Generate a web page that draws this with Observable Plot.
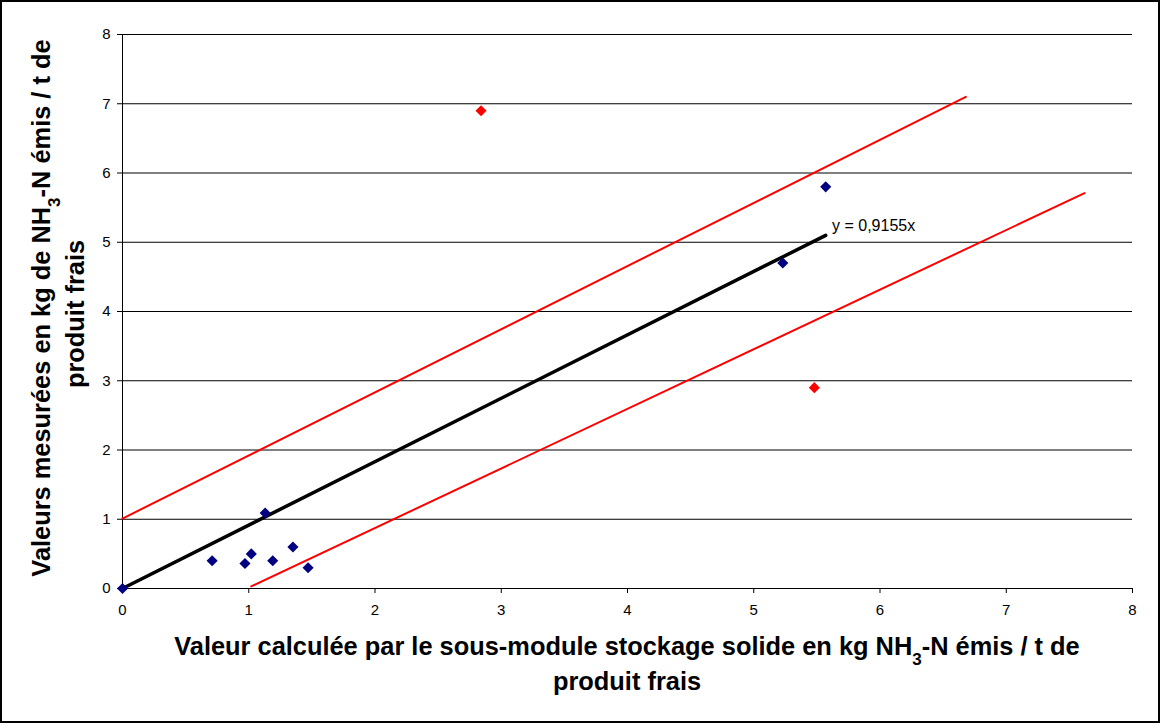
<!DOCTYPE html>
<html>
<head>
<meta charset="utf-8">
<script src="https://cdn.jsdelivr.net/npm/d3@7"></script>
<script src="https://cdn.jsdelivr.net/npm/@observablehq/plot@0.6"></script>
<style>
  html, body { margin: 0; padding: 0; background: #fff; }
  #chart svg { display: block; }
  #chart g[aria-label="x-axis tick label"] text,
  #chart g[aria-label="y-axis tick label"] text { font-size: 15px; }
</style>
</head>
<body>
<div id="chart"></div>
<script>
// Data
const calcBlue = [0, 0.71, 0.97, 1.02, 1.13, 1.19, 1.35, 1.47, 5.23, 5.57];
const measBlue = [0, 0.40, 0.36, 0.50, 1.09, 0.40, 0.60, 0.30, 4.70, 5.80];
const calcRed = [2.84, 5.48];
const measRed = [6.90, 2.90];
const trendX = [0, 5.57];
const trendY = [0, 5.10];
const upperX = [0, 6.68];
const upperY = [1.01, 7.10];
const lowerX = [1.02, 7.62];
const lowerY = [0.03, 5.71];
const ticks = [0, 1, 2, 3, 4, 5, 6, 7, 8];
const trendLabel = "y = 0,9155x";

const blue = calcBlue.map((x, i) => ({x, y: measBlue[i]}));
const red = calcRed.map((x, i) => ({x, y: measRed[i]}));
const trend = trendX.map((x, i) => ({x, y: trendY[i]}));
const upper = upperX.map((x, i) => ({x, y: upperY[i]}));
const lower = lowerX.map((x, i) => ({x, y: lowerY[i]}));

const W = 1160, H = 723;
const chart = Plot.plot({
  width: W,
  height: H,
  marginLeft: 122,
  marginRight: 28,
  marginTop: 34,
  marginBottom: 135,
  style: {fontFamily: "Arial, 'Liberation Sans', sans-serif", fontSize: "15px", color: "#000", background: "#fff"},
  x: {domain: [0, 8]},
  y: {domain: [0, 8]},
  marks: [
    Plot.gridY(ticks.slice(1), {stroke: "#000", strokeOpacity: 1, strokeWidth: 1}),
    Plot.ruleX([0], {stroke: "#000"}),
    Plot.ruleY([0], {stroke: "#000"}),
    Plot.axisX(ticks, {tickSize: 5, tickPadding: 11, label: null, fontSize: 15, tickFormat: d => String(d)}),
    Plot.axisY(ticks, {tickSize: 5, tickPadding: 7, label: null, fontSize: 15, tickFormat: d => String(d)}),
    Plot.line(upper, {x: "x", y: "y", stroke: "#ff0000", strokeWidth: 2}),
    Plot.line(lower, {x: "x", y: "y", stroke: "#ff0000", strokeWidth: 2}),
    Plot.line(trend, {x: "x", y: "y", stroke: "#000", strokeWidth: 3.5}),
    Plot.dot(blue, {x: "x", y: "y", symbol: "diamond2", r: 5, fill: "#000080", stroke: "none"}),
    Plot.dot(red, {x: "x", y: "y", symbol: "diamond2", r: 5, fill: "#ff0000", stroke: "none"}),
    Plot.text([trendLabel], {x: 5.62, y: 5.24, text: d => d, textAnchor: "start", fontSize: 16, fill: "#000"})
  ]
});
document.getElementById("chart").appendChild(chart);

const svg = d3.select(chart);
svg.append("rect")
  .attr("x", 1).attr("y", 1).attr("width", W - 2).attr("height", H - 2)
  .attr("fill", "none").attr("stroke", "#000").attr("stroke-width", 2);

function titleLine(g, parts) {
  parts.forEach(p => {
    const t = g.append("tspan").text(p.t);
    if (p.sub) t.attr("baseline-shift", "sub").attr("font-size", "17px");
  });
}
const tfont = "Arial, 'Liberation Sans', sans-serif";
const tsize = "25.4px";
// X title
const xt1 = svg.append("text").attr("x", 627).attr("y", 655).attr("text-anchor", "middle")
  .attr("font-family", tfont).attr("font-size", tsize).attr("font-weight", "bold").attr("fill", "#000");
titleLine(xt1, [{t: "Valeur calculée par le sous-module stockage solide en kg NH"}, {t: "3", sub: true}, {t: "-N émis / t de"}]);
svg.append("text").attr("x", 627).attr("y", 690).attr("text-anchor", "middle")
  .attr("font-family", tfont).attr("font-size", tsize).attr("font-weight", "bold").attr("fill", "#000")
  .text("produit frais");
// Y title
const yt1 = svg.append("text").attr("transform", "translate(50,308) rotate(-90)").attr("text-anchor", "middle")
  .attr("font-family", tfont).attr("font-size", tsize).attr("font-weight", "bold").attr("fill", "#000");
titleLine(yt1, [{t: "Valeurs mesurées en kg de NH"}, {t: "3", sub: true}, {t: "-N émis / t de"}]);
svg.append("text").attr("transform", "translate(84,314) rotate(-90)").attr("text-anchor", "middle")
  .attr("font-family", tfont).attr("font-size", tsize).attr("font-weight", "bold").attr("fill", "#000")
  .text("produit frais");
</script>
</body>
</html>
